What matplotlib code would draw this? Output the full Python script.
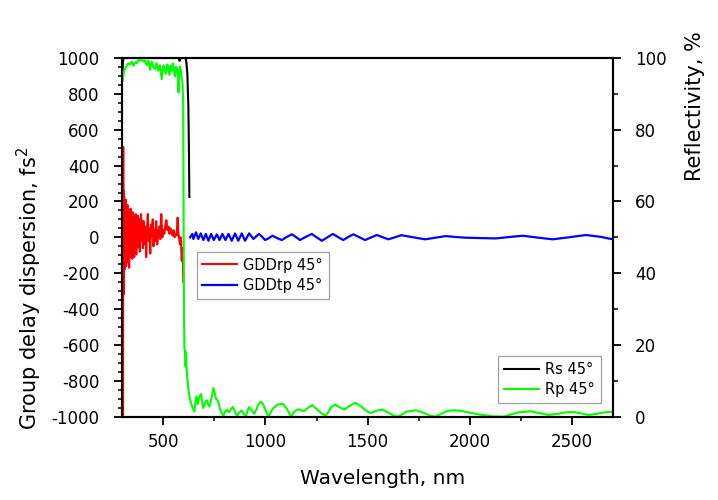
import matplotlib
matplotlib.use("Agg")
import matplotlib.pyplot as plt
from matplotlib.ticker import MultipleLocator

plt.rcParams['font.family'] = ['DejaVu Sans']
plt.rcParams['axes.unicode_minus'] = False

# ---------------- data ----------------
# GDD (left axis, fs^2)
gddrp_wl = [302.8, 303.6, 304.4, 305.2, 306, 308, 310, 312, 314, 316, 318, 320, 322.5, 325, 327.5,
            330, 332.5, 335, 337.5, 340, 342.5, 345, 347.5, 350, 352.5, 355, 357.5, 360, 362.5,
            365, 367.5, 370, 373, 376, 379, 382, 385, 388, 391, 394, 397, 400, 404, 408, 412,
            416, 420, 424, 428, 432, 436, 440, 444, 448, 452, 456, 460, 465, 470, 475, 480,
            485, 490, 495, 500, 505, 510, 515, 520, 525, 530, 535, 540, 545, 550, 555, 560,
            565, 570, 574, 578, 582, 586, 590, 594, 598]
gddrp = [-1000, 505, -320, 260, -150, 230, -180, 190, -120, 210, -160, 160, -90, 180, -140,
         130, -170, 150, -60, 160, -110, 110, -120, 140, -70, 120, -110, 100, -40, 130,
         -95, 80, -60, 120, -30, 100, -80, 60, 130, -20, 90, -60, 90, -40, 60, -110,
         40, 130, -20, 50, -90, 70, 10, 100, -50, 40, -20, 90, -40, 20, 60, -10, 130, 0,
         40, 20, 70, 95, 40, 60, 20, 50, 30, 10, 40, 0, 20, 10, 110, 20, -10, -40, 0,
         -130, -60, -250]

gddtp_wl = [631, 642, 647, 660, 671, 683, 696, 708, 721, 734, 747, 762, 775, 789, 804, 819,
            835, 851, 867, 884, 900, 920, 941, 955, 969, 984, 998, 1016, 1034, 1057, 1080,
            1104, 1129, 1149, 1169, 1198, 1227, 1251, 1276, 1303, 1330, 1355, 1381, 1405,
            1430, 1459, 1488, 1516, 1545, 1573, 1602, 1633, 1665, 1720, 1782, 1832, 1883,
            1930, 1981, 2050, 2128, 2195, 2259, 2330, 2406, 2490, 2569, 2640, 2700]
gddtp = [0, 19, -9, 28, -9, 22, -15, 19, -19, 19, -15, 17, -15, 19, -15, 19,
         -19, 22, -19, 22, -19, 22, -9, 6, 19, 3, -15, -5, 9, -4, -15,
         2, 17, 2, -15, 3, 19, 0, -19, 0, 19, 2, -15, 2,
         17, 1, -15, -1, 13, 1, -11, 0, 12, 1, -11, -2, 7,
         2, -2, -4, -6, 2, 9, -1, -11, 1, 13, 3, -11]

# Reflectivity (right axis, %)
rs_wl = [300, 302, 305, 310, 350, 400, 450, 500, 550, 575, 580, 584, 590, 600, 608, 611,
         614, 617.6, 620, 622.5, 625, 627.4]
rs = [95, 99, 100, 100, 100, 100, 100, 100, 100, 100, 99.2, 100, 100, 100, 100, 99.5,
      98, 95.7, 91, 86.4, 76, 61.3]

rp_wl = [300, 303, 307, 312, 320, 328, 337, 345, 353, 362, 370, 378, 386, 395, 403, 411,
         419, 427, 435, 443, 451, 459, 467, 475, 483, 492, 500, 507, 513, 519, 524, 530,
         535, 541, 546, 552, 557, 562, 567, 571, 574, 578, 582, 586, 590, 594, 597, 599,
         601, 603, 606, 609, 611, 613, 617, 623, 630, 640, 652, 658, 663, 668, 674, 680,
         685, 690, 696, 704, 713, 719, 726, 735, 745, 752, 758, 765, 772, 780, 794, 802,
         811, 820, 830, 840, 850, 860, 872, 884, 894, 904, 912, 920, 932, 945, 955, 967,
         979, 990, 1003, 1015, 1035, 1060, 1085, 1105, 1125, 1140, 1155, 1170, 1180, 1190,
         1210, 1229, 1250, 1275, 1293, 1305, 1320, 1342, 1362, 1387, 1412, 1440, 1465, 1490,
         1513, 1540, 1571, 1600, 1625, 1644, 1665, 1690, 1734, 1770, 1800, 1832, 1860, 1890,
         1922, 1960, 2010, 2060, 2110, 2167, 2200, 2240, 2298, 2340, 2386, 2430, 2470, 2509,
         2545, 2582, 2620, 2660, 2700]
rp = [93.5, 94.5, 96.3, 97, 97.7, 98.5, 98.2, 99, 97.8, 98.8, 98.6, 99.5, 99.2, 99.6, 99, 99.4,
      98, 99.3, 96.7, 99, 97.6, 96.9, 98.6, 96.5, 98, 94.1, 97.9, 96.5, 95.6, 98.2, 97.5, 95.3,
      97.8, 96.4, 98.5, 96.8, 94.9, 97.6, 97, 95, 90.4, 96, 97.6, 96.5, 94.3, 93, 88, 60,
      30, 19, 18.6, 14, 18, 14, 11, 7.4, 5, 3, 1.4, 4.5, 5.6, 3.5, 5, 6,
      6.3, 4, 2.4, 3.8, 4.6, 3.5, 2.8, 5, 8, 6.5, 5, 4.6, 3.5, 1.5, 0.3, 1.4,
      1.9, 1.2, 2.0, 2.7, 1.5, 0.2, 1.2, 1.7, 0.8, 0.1, 1.6, 2.7, 1.8, 0.8, 2.0, 3.6,
      4.2, 3.3, 1.4, 0, 2.2, 3.4, 3.6, 2.2, 0, 1.3, 2.0, 2.0, 1.6, 1.6,
      2.6, 3.2, 2.2, 0.9, 0.3, 1.0, 2.6, 3.4, 2.6, 2.0, 3.0, 3.9, 3.0, 1.8,
      1.0, 1.6, 2.0, 1.2, 0.4, 0, 0.5, 1.4, 1.8, 1.2, 0.4, 0, 0.8, 1.6,
      1.8, 1.6, 1.0, 0.5, 0.1, 0, 0.6, 1.2, 1.5, 1.0, 0.5, 0.8, 1.2, 1.3,
      0.9, 0.5, 0.8, 1.2, 1.4]

x_ticks = [500, 1000, 1500, 2000, 2500]
left_ticks = list(range(-1000, 1001, 200))
right_ticks = [0, 20, 40, 60, 80, 100]

# ---------------- figure ----------------
fig = plt.figure(figsize=(7.18, 5.0), dpi=100)
ax = fig.add_axes([0.1706, 0.1666, 0.6827, 0.7174])
ax2 = ax.twinx()

l1, = ax.plot(gddrp_wl, gddrp, color='#FF0000', lw=1.5, label='GDDrp 45°')
l2, = ax.plot(gddtp_wl, gddtp, color='#0000FF', lw=1.6, label='GDDtp 45°')
l3, = ax2.plot(rs_wl, rs, color='black', lw=1.5, label='Rs 45°')
l4, = ax2.plot(rp_wl, rp, color='#00FF00', lw=1.5, label='Rp 45°')

ax.set_xlim(300, 2700)
ax.set_ylim(-1000, 1000)
ax2.set_ylim(0, 100)

ax.set_xticks(x_ticks)
ax.set_yticks(left_ticks)
ax2.set_yticks(right_ticks)
ax.xaxis.set_minor_locator(MultipleLocator(250))
ax.yaxis.set_minor_locator(MultipleLocator(50))
ax2.yaxis.set_minor_locator(MultipleLocator(10))

for a in (ax, ax2):
    for s in a.spines.values():
        s.set_linewidth(1.5)
ax.tick_params(axis='x', which='major', direction='out', length=5.5, width=1.3,
               labelsize=12, pad=6, top=False)
ax.tick_params(axis='x', which='minor', direction='out', length=3, width=1.1, top=False)
ax.tick_params(axis='y', which='major', direction='out', length=5.5, width=1.3,
               labelsize=12, pad=11)
ax.tick_params(axis='y', which='minor', direction='out', length=3, width=1.1)
ax2.tick_params(axis='y', which='major', direction='out', length=6, width=1.3,
                labelsize=12, pad=10)
ax2.tick_params(axis='y', which='minor', direction='out', length=3.5, width=1.1)

ax.set_xlabel('Wavelength, nm', fontsize=14.5, va='center')
ax.xaxis.set_label_coords(0.531, -0.172)
ax.set_ylabel('Group delay dispersion, fs$^{2}$', fontsize=15, va='center')
ax.yaxis.set_label_coords(-0.19, 0.359)
ax2.set_ylabel('Reflectivity, %', fontsize=15, va='center', rotation=90)
ax2.yaxis.set_label_coords(1.168, 0.866)

leg1 = ax.legend(handles=[l1, l2], loc='upper left', bbox_to_anchor=(0.151, 0.46),
                 borderaxespad=0, fontsize=10.5, handlelength=2.4, handletextpad=0.4,
                 labelspacing=0.35, fancybox=False, framealpha=1, edgecolor='#a0a0a0',
                 borderpad=0.4)
leg1.get_frame().set_linewidth(0.9)
leg2 = ax2.legend(handles=[l3, l4], loc='lower right', bbox_to_anchor=(0.9755, 0.0374),
                  borderaxespad=0, fontsize=10.5, handlelength=2.4, handletextpad=0.4,
                  labelspacing=0.35, fancybox=False, framealpha=1, edgecolor='#a0a0a0',
                  borderpad=0.4)
leg2.get_frame().set_linewidth(0.9)

fig.savefig('out.png', dpi=100)
